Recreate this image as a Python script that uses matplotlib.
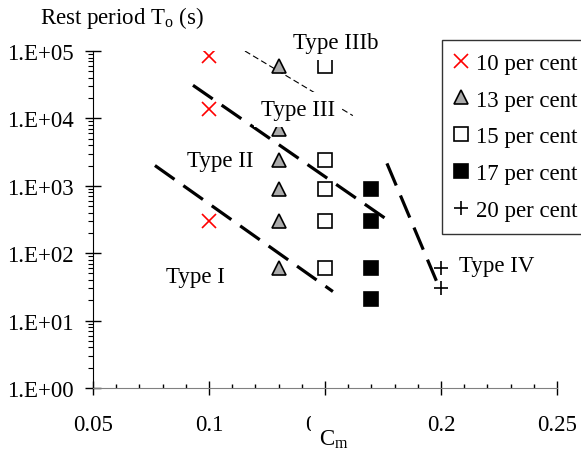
import numpy as np
import matplotlib
matplotlib.use("Agg")
import matplotlib.pyplot as plt
from matplotlib.ticker import FixedLocator, MultipleLocator, FuncFormatter, LogLocator, NullFormatter
from matplotlib.patches import Rectangle

plt.rcParams['font.family'] = ['Liberation Serif', 'DejaVu Serif']
plt.rcParams['mathtext.fontset'] = 'custom'
plt.rcParams['mathtext.rm'] = 'Liberation Serif'
plt.rcParams['mathtext.it'] = 'Liberation Serif:italic'

FS = 16.5
W, H = 581, 452

# measured points, per concentration
x10 = [0.10, 0.10, 0.10]
y10 = [8.5e4, 1.4e4, 300]
x13 = [0.13, 0.13, 0.13, 0.13, 0.13, 0.13]
y13 = [6e4, 7e3, 2.4e3, 900, 300, 60]
x15 = [0.15, 0.15, 0.15, 0.15, 0.15]
y15 = [6e4, 2.4e3, 900, 300, 60]
x17 = [0.17, 0.17, 0.17, 0.17]
y17 = [900, 300, 60, 21]
x20 = [0.20, 0.20]
y20 = [60, 30]

# boundaries between types
line_I_x = [0.0767, 0.1534]
line_I_y = [2000, 27]
line_II_x = [0.0931, 0.1767]
line_II_y = [3.1e4, 316]
line_IV_x = [0.1767, 0.198]
line_IV_y = [2150, 39]
line_IIIb_x = [0.1155, 0.162]
line_IIIb_y = [1e5, 1.1e4]

type_labels = ['Type I', 'Type II', 'Type III', 'Type IIIb', 'Type IV']
type_x = [0.094, 0.105, 0.1384, 0.1547, 0.224]
type_y = [45, 2400, 1.35e4, 1.35e5, 65]

xticks = [0.05, 0.1, 0.15, 0.2, 0.25]
xtick_labels = ['0.05', '0.1', '0.15', '0.2', '0.25']

fig = plt.figure(figsize=(W / 100, H / 100), dpi=100)
ax = fig.add_axes([93 / W, 1 - 389 / H, 464 / W, 337 / H])

ax.set_yscale('log')
ax.set_xlim(0.05, 0.25)
ax.set_ylim(1, 1e5)

# boundary lines
dash_kw = dict(color='black', lw=2.3, dashes=(7.5, 3.4), solid_capstyle='butt', dash_capstyle='butt')
ax.plot(line_I_x, line_I_y, **dash_kw, zorder=2)
ax.plot(line_II_x, line_II_y, **dash_kw, zorder=2)
ax.plot(line_IV_x, line_IV_y, **dash_kw, zorder=2)
ax.plot(line_IIIb_x, line_IIIb_y, color='black', lw=0.8, dashes=(5.5, 3), zorder=2)

ms = 10
ax.plot(x10, y10, ls='none', marker='x', ms=ms, mew=1.2, color='red', label='10 per cent', zorder=3)
ax.plot(x13, y13, ls='none', marker='^', ms=ms, mew=1.2, mfc='#aaaaaa', mec='black', label='13 per cent', zorder=3)
ax.plot(x15, y15, ls='none', marker='s', ms=ms - 0.5, mew=1.2, mfc='white', mec='black', label='15 per cent', zorder=3)
ax.plot(x17, y17, ls='none', marker='s', ms=ms - 0.5, mew=1.2, mfc='black', mec='black', label='17 per cent', zorder=3)
ax.plot(x20, y20, ls='none', marker='+', ms=ms, mew=1.2, color='black', label='20 per cent', zorder=3)

# region labels sit on white boxes that hide parts of the marks below
for lab, tx, ty in zip(type_labels, type_x, type_y):
    ax.text(tx, ty, lab, fontsize=FS, ha='center', va='center', zorder=5,
            bbox=dict(facecolor='white', edgecolor='none', pad=5))

# axes styling
for s in ['top', 'right']:
    ax.spines[s].set_visible(False)
ax.spines['left'].set_color('black')
ax.spines['bottom'].set_color('#808080')

ax.xaxis.set_major_locator(FixedLocator(xticks))
ax.set_xticklabels(xtick_labels)
ax.xaxis.set_minor_locator(MultipleLocator(0.01))
ax.yaxis.set_major_locator(LogLocator(base=10, numticks=10))
ax.yaxis.set_minor_locator(LogLocator(base=10, subs=np.arange(2, 10), numticks=20))
ax.yaxis.set_minor_formatter(NullFormatter())
ax.yaxis.set_major_formatter(FuncFormatter(lambda v, p: '1.E+%02d' % int(round(np.log10(v)))))

ax.tick_params(axis='x', which='major', direction='inout', length=10, width=1, pad=14, labelsize=FS, color='black')
ax.tick_params(axis='x', which='minor', direction='in', length=3, width=1, color='black')
ax.tick_params(axis='y', which='major', direction='inout', length=12, width=1, pad=8, labelsize=FS)
ax.tick_params(axis='y', which='minor', direction='out', length=3.6, width=0.8)

# axis titles
fig.text(40 / W, 1 - 18 / H, r'Rest period T$_\mathrm{o}$ (s)', fontsize=FS, ha='left', va='center')
fig.patches.append(Rectangle((311 / W, 0), 50 / W, 36 / H, transform=fig.transFigure,
                             facecolor='white', edgecolor='none', zorder=2))
fig.text(319 / W, 1 - 446 / H, r'C$_\mathrm{m}$', fontsize=FS, ha='left', va='baseline', zorder=3)

leg = fig.legend(loc='upper left', bbox_to_anchor=(442 / W, 1 - 41 / H), bbox_transform=fig.transFigure,
                 fontsize=FS, frameon=True, fancybox=False, shadow=False, handlelength=0.6,
                 handletextpad=0.35, borderpad=0.55, labelspacing=0.69, borderaxespad=0)
leg.get_frame().set_edgecolor('black')
leg.get_frame().set_linewidth(1.0)

fig.savefig('out.png', dpi=100)
